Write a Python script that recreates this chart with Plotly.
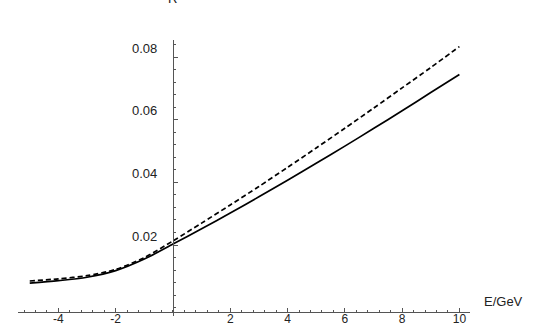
import plotly.graph_objs

# energy grid and the two curves
energy = [-5, -4, -3, -2, -1, 0, 1, 2, 3, 4, 5, 6, 7, 8, 9, 10]
r_solid = [0.0078, 0.0086, 0.0097, 0.0118, 0.0155, 0.0203, 0.0252, 0.0302,
           0.0354, 0.0407, 0.0461, 0.0516, 0.0572, 0.0629, 0.0687, 0.0745]
r_dashed = [0.0085, 0.0092, 0.0102, 0.0122, 0.0160, 0.0213, 0.0270, 0.0328,
            0.0387, 0.0448, 0.0510, 0.0573, 0.0637, 0.0702, 0.0767, 0.0834]

x_ticks = [-4, -2, 2, 4, 6, 8, 10]
x_tick_labels = ["-4", "-2", "2", "4", "6", "8", "10"]
y_ticks = [0.02, 0.04, 0.06, 0.08]
y_tick_labels = ["0.02", "0.04", "0.06", "0.08"]

FONT = "Liberation Sans, Arial, Helvetica, sans-serif"
AXIS_COLOR = "#555555"


def make_figure():
    solid = plotly.graph_objs.Scatter(x=energy, y=r_solid, mode="lines",
                                      line=dict(color="black", width=1.7, shape="spline",
                                                smoothing=0.8),
                                      showlegend=False)
    dashed = plotly.graph_objs.Scatter(x=energy, y=r_dashed, mode="lines",
                                       line=dict(color="black", width=1.7, shape="spline",
                                                 smoothing=0.8, dash="5px,3px"),
                                       showlegend=False)
    fig = plotly.graph_objs.Figure([solid, dashed])

    # y tick labels sit a bit above their ticks in the original, so draw them as text
    annotations = []
    for val, txt in zip(y_ticks, y_tick_labels):
        annotations.append(dict(x=0, y=val, xref="x", yref="y", text=txt, showarrow=False,
                                xanchor="right", yanchor="middle", xshift=-14, yshift=9,
                                font=dict(size=13, color="#222222", family=FONT)))
    annotations.append(dict(x=0, y=1, xref="x", yref="paper", text="R", showarrow=False,
                            xanchor="center", yanchor="bottom", yshift=32,
                            font=dict(size=13, color="#222222", family=FONT)))
    annotations.append(dict(x=1.0265, y=0.052, xref="paper", yref="paper", text="E/GeV",
                            showarrow=False, xanchor="left", yanchor="middle",
                            font=dict(size=13, color="#222222", family=FONT)))

    fig.update_layout(
        width=545, height=336,
        margin=dict(l=18, r=75, t=40, b=20, autoexpand=False),
        plot_bgcolor="white", paper_bgcolor="white",
        annotations=annotations,
        xaxis=dict(range=[-5.41, 10.37], anchor="free", position=0.0156, automargin=False,
                   showgrid=False, zeroline=False, showline=True, linecolor=AXIS_COLOR,
                   linewidth=1, ticks="inside", ticklen=4, tickcolor=AXIS_COLOR,
                   tickmode="array", tickvals=x_ticks, ticktext=x_tick_labels,
                   ticklabelstandoff=-4,
                   tickfont=dict(size=12, color="#222222", family=FONT),
                   minor=dict(ticks="inside", ticklen=2, tick0=0, dtick=0.4,
                              tickcolor=AXIS_COLOR)),
        yaxis=dict(range=[-0.00268, 0.0855], anchor="free", position=0.343, automargin=False,
                   showgrid=False, zeroline=False, showline=True, linecolor=AXIS_COLOR,
                   linewidth=1, ticks="inside", ticklen=4, tickcolor=AXIS_COLOR,
                   tickmode="array", tickvals=y_ticks, showticklabels=False,
                   minor=dict(ticks="inside", ticklen=2, tick0=0, dtick=0.004,
                              tickcolor=AXIS_COLOR)),
    )
    return fig


def main():
    fig = make_figure()
    # the page's default body margin pushes the chart off by 8px, drop it
    fig.write_html("out.html", config={"displayModeBar": False},
                   post_script="document.body.style.margin = '0px';")


if __name__ == "__main__":
    main()
